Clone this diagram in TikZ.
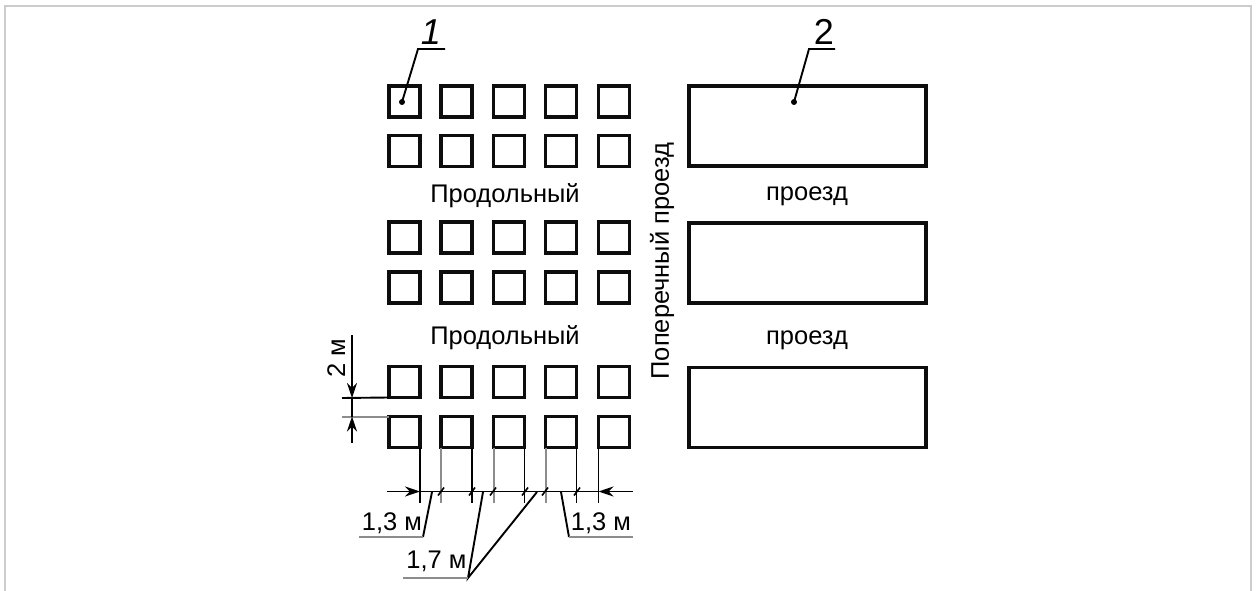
\documentclass[tikz,border=0pt]{standalone}
\usepackage{fontspec}
\setmainfont{Liberation Sans}
\usetikzlibrary{arrows.meta}
\tikzset{
  sq/.style={draw=black!95,line width=3.3pt,minimum width=31pt,minimum height=31pt,inner sep=0pt,outer sep=0pt},
  bigbox/.style={draw=black!95,line width=3.3pt,minimum width=237pt,minimum height=80pt,inner sep=0pt,outer sep=0pt},
  lbl/.style={inner sep=0pt,outer sep=0pt,font=\fontsize{25.5}{30}\selectfont,text=black},
  num/.style={inner sep=0pt,outer sep=0pt,font=\fontsize{36}{40}\selectfont,text=black},
  thinl/.style={draw=black,line width=1.9pt},
  grayl/.style={draw=black!45,line width=2pt},
  dimarrow/.style={thinl,-{Stealth[length=15pt,width=10pt]}},
  tick/.style={thinl,line width=1.6pt},
  frameline/.style={draw=black!20,line width=2pt}
}
\begin{document}
\begin{tikzpicture}[x=1pt,y=-1pt]
\useasboundingbox (0,0) rectangle (1259,591);
% outer frame
\coordinate (fa) at (5,591); \coordinate (fb) at (5,6.5); \coordinate (fc) at (1251,6.5); \coordinate (fd) at (1251,591);
\draw[frameline] (fa) -- (fb) -- (fc) -- (fd);
% squares
\foreach \r/\y in {1/101.5,2/151,3/237.5,4/287.5,5/382,6/432}{
  \foreach \c/\x in {1/404.5,2/456.5,3/509,4/561,5/614}{
    \node[sq] (s\r\c) at (\x,\y) {};
  }
}
% rectangles
\node[bigbox] (r1) at (807.5,126) {};
\node[bigbox] (r2) at (807.5,263) {};
\node[bigbox] (r3) at (807.5,407.5) {};
% labels
\node[lbl] (t1) at (505,196) {Продольный};
\node[lbl] (t2) at (505,338) {Продольный};
\node[lbl] (t3) at (807,196.5) {проезд};
\node[lbl] (t4) at (807,340) {проезд};
\node[lbl,rotate=90] (t5) at (662,261) {Поперечный проезд};
\node[lbl,anchor=base] (t6) at (392,530) {1,3 м};
\node[lbl,anchor=base] (t7) at (601,530) {1,3 м};
\node[lbl,anchor=base] (t8) at (436.5,568) {1,7 м};
\node[lbl,rotate=90,anchor=base] (t9) at (345,358) {2 м};
\node[num,anchor=base,font=\fontsize{36}{40}\selectfont\itshape] (n1) at (431,45) {1};
\node[num,anchor=base] (n2) at (824,45) {2};
% item leaders
\coordinate (a1) at (445,49); \coordinate (a2) at (418,49); \fill[black] (402,102) circle (3pt) coordinate (a3);
\draw[thinl] (a1) -- (a2) -- (a3);
\coordinate (b1) at (835,49); \coordinate (b2) at (809,49); \fill[black] (794,102) circle (3pt) coordinate (b3);
\draw[thinl] (b1) -- (b2) -- (b3);
% extension lines (bottom)
\coordinate (eb) at (0,503);
\draw[thinl] (s61.south east) -- (s61.south east |- eb);
\draw[grayl] (s62.south west) -- (s62.south west |- eb);
\draw[thinl] (s62.south east) -- (s62.south east |- eb);
\draw[grayl] (s63.south west) -- (s63.south west |- eb);
\draw[thinl] (s63.south east) -- (s63.south east |- eb);
\draw[grayl] (s64.south west) -- (s64.south west |- eb);
\draw[thinl] (s64.south east) -- (s64.south east |- eb);
\draw[thinl] (s65.south west) -- (s65.south west |- eb);
% horizontal dimension line
\coordinate (dl) at (387,491.5); \coordinate (dr) at (633,491.5);
\coordinate (d1) at (s61.south east |- dl); \coordinate (d2) at (s65.south west |- dl);
\draw[thinl] (d1) -- (d2);
\draw[dimarrow] (dl) -- (d1);
\draw[dimarrow] (dr) -- (d2);
\foreach \x in {441,472,493,525,545,577}{
  \coordinate (tk) at (\x,491.5);
  \draw[tick] ([shift={(-3,4)}]tk) -- ([shift={(3,-4)}]tk);
}
% leaders of the dimensions
\coordinate (c1) at (432,492); \coordinate (c2) at (423,537); \coordinate (c3) at (359,537);
\draw[thinl] (c1) -- (c2); \draw[grayl] (c2) -- (c3);
\coordinate (e1) at (561,492); \coordinate (e2) at (569,537); \coordinate (e3) at (633,537);
\draw[thinl] (e1) -- (e2); \draw[grayl] (e2) -- (e3);
\coordinate (g1) at (483,492); \coordinate (g2) at (537,492); \coordinate (g3) at (468,578); \coordinate (g4) at (403,578);
\draw[thinl] (g1) -- (g3) -- (g2); \draw[grayl] (g3) -- (g4);
% vertical dimension
\coordinate (v1) at (342,398); \coordinate (v2) at (342,416.5);
\draw[thinl] (v1) -- (s51.south west);
\draw[grayl] (v2) -- (s61.north west);
\coordinate (w0) at (352,335); \coordinate (w1) at (352,398); \coordinate (w2) at (352,416.5); \coordinate (w3) at (352,443);
\draw[thinl] (w1) -- (w2);
\draw[dimarrow] (w0) -- (w1);
\draw[dimarrow] (w3) -- (w2);
\end{tikzpicture}
\end{document}
